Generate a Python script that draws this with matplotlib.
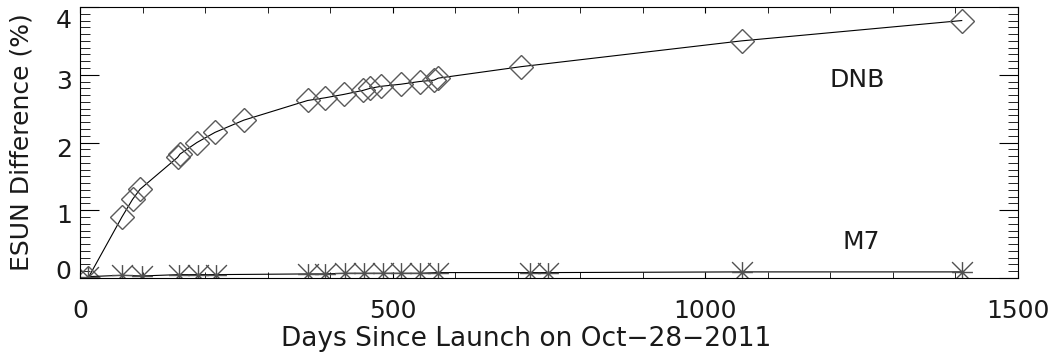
import matplotlib
matplotlib.use("Agg")
import matplotlib.pyplot as plt
import matplotlib.transforms as mtransforms
from matplotlib.path import Path
from matplotlib.ticker import MultipleLocator

# DNB ESUN difference (%) vs days since launch
dnb_days = [13, 67, 84, 96, 156, 160, 187, 216, 262, 364, 392, 422, 453, 464,
            482, 513, 543, 566, 573, 706, 1058, 1410]
dnb_vals = [0.0, 0.90, 1.16, 1.31, 1.78, 1.83, 2.00, 2.15, 2.33, 2.62, 2.66,
            2.71, 2.77, 2.80, 2.83, 2.86, 2.90, 2.92, 2.95, 3.12, 3.50, 3.80]

# M7 ESUN difference (%)
m7_days = [13, 67, 99, 158, 188, 217, 364, 392, 423, 454, 484, 513, 543, 572,
           719, 748, 1058, 1410]
m7_vals = [0.02, 0.04, 0.03, 0.05, 0.05, 0.05, 0.06, 0.06, 0.07, 0.07, 0.07,
           0.07, 0.07, 0.08, 0.08, 0.08, 0.09, 0.09]

y_ticks = [0, 1, 2, 3, 4]
x_ticks = [0, 500, 1000, 1500]

font = "DejaVu Sans"
fs = 18
txt_color = "#1a1a1a"

# IDL style asterisk: vertical, horizontal and two diagonals
asterisk = Path([(0, -1), (0, 1), (-1, 0), (1, 0), (-1, -1), (1, 1), (-1, 1), (1, -1)],
                [Path.MOVETO, Path.LINETO] * 4)

fig = plt.figure(figsize=(10.54, 3.58), dpi=100)
ax = fig.add_axes([80 / 1054, 1 - 278 / 358, 938 / 1054, 271 / 358])

ax.plot(dnb_days, dnb_vals, color="black", lw=0.8, marker="D", ms=12,
        mfc="none", mec="#5a5a5a", mew=1.0)
ax.plot(m7_days, m7_vals, color="black", lw=0.8, marker=asterisk, ms=15,
        mec="#505050", mew=1.0)

ax.text(1243, 2.92, "DNB", ha="center", va="center", fontsize=fs,
        family=font, color=txt_color)
ax.text(1250, 0.53, "M7", ha="center", va="center", fontsize=fs,
        family=font, color=txt_color)

ax.set_xlim(0, 1500)
ax.set_ylim(0, 4)
ax.set_xticks(x_ticks)
ax.set_yticks(y_ticks)
ax.xaxis.set_minor_locator(MultipleLocator(100))
ax.yaxis.set_minor_locator(MultipleLocator(0.1))

ax.tick_params(axis="x", which="both", direction="in", top=True, pad=15,
               labelsize=fs, labelcolor=txt_color)
ax.tick_params(axis="x", which="major", length=4)
ax.tick_params(axis="x", which="minor", length=4)
ax.tick_params(axis="y", which="both", direction="in", right=True, pad=6,
               labelsize=fs, labelcolor=txt_color)
ax.tick_params(axis="y", which="major", length=13.7)
ax.tick_params(axis="y", which="minor", length=7.2)

# IDL keeps the end labels inside the axis range
shifts = [6, -2.5, -3.5, -3.5, -8]
for tick, dy in zip(ax.yaxis.get_major_ticks(), shifts):
    off = mtransforms.ScaledTranslation(0, dy / 72, fig.dpi_scale_trans)
    tick.label1.set_transform(tick.label1.get_transform() + off)
    tick.label1.set_family(font)
for tick in ax.xaxis.get_major_ticks():
    tick.label1.set_family(font)

ax.set_xlabel("Days Since Launch on Oct\u221228\u22122011", fontsize=19,
              family=font, labelpad=2, color=txt_color)
ax.xaxis.label.set_x(0.4755)
ax.set_ylabel("ESUN Difference (%)", fontsize=fs, family=font, labelpad=16,
              color=txt_color)

fig.savefig("out.png", dpi=100)
